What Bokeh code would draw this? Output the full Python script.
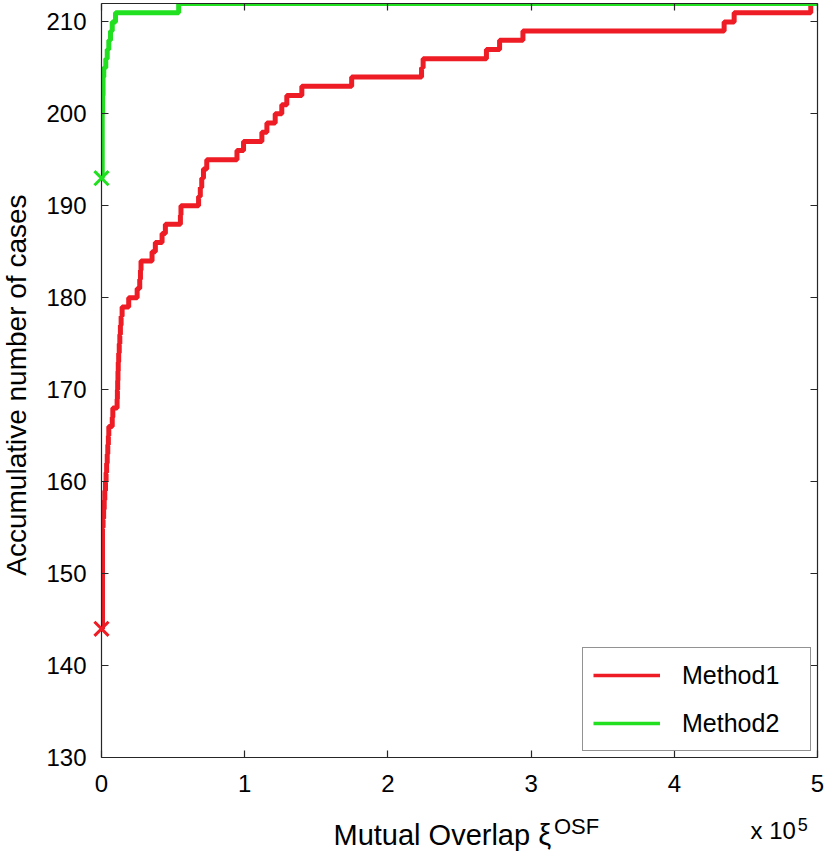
import math
from bokeh.plotting import figure
from bokeh.models import Range1d, LinearAxis, FixedTicker, Legend, LegendItem
from bokeh.core.properties import value
from bokeh.embed import file_html
from bokeh.resources import INLINE

# ---- data (x in units of 1e5) ----
red_x = [0, 0.007, 0.011, 0.015, 0.019, 0.023, 0.028, 0.032, 0.036, 0.040, 0.044, 0.048,
         0.051, 0.075, 0.079, 0.109, 0.111, 0.113, 0.115, 0.117, 0.120, 0.124, 0.128,
         0.132, 0.137, 0.144, 0.190, 0.249, 0.267, 0.272, 0.276, 0.353, 0.376, 0.423,
         0.446, 0.551, 0.555, 0.678, 0.690, 0.700, 0.712, 0.735, 0.946, 0.992, 1.120,
         1.155, 1.213, 1.259, 1.294, 1.399, 1.747, 2.235, 2.246, 2.688, 2.780, 2.943,
         4.348, 4.418, 4.953, 5.0]
red_y = [144, 155, 156, 157, 158, 159, 160, 161, 162, 163, 164, 165,
         166, 167, 168, 169, 170, 171, 172, 173, 174, 175, 176,
         177, 178, 179, 180, 181, 182, 183, 184, 185, 186, 187,
         188, 189, 190, 191, 192, 193, 194, 195, 196, 197, 198,
         199, 200, 201, 202, 203, 204, 205, 206, 207, 208, 209,
         210, 211, 212, 212]

green_x = [0, 0.005, 0.008, 0.011, 0.016, 0.030, 0.040, 0.051, 0.063, 0.075, 0.098, 0.539, 5.0]
green_y = [193, 200, 202, 204, 205, 206, 207, 208, 209, 210, 211, 212, 212]

series_names = ["Method1", "Method2"]
x_ticks = [0, 1, 2, 3, 4, 5]
y_ticks = [130, 140, 150, 160, 170, 180, 190, 200, 210]

RED = "#EE1C24"
GREEN = "#20E020"
AX = "#262626"
FONT = "Liberation Sans"

p = figure(frame_width=716, frame_height=754, output_backend="svg", toolbar_location=None,
           x_range=Range1d(0, 5), y_range=Range1d(130, 212),
           min_border_left=101, min_border_right=8, min_border_top=3, min_border_bottom=94,
           x_axis_location=None, y_axis_location=None)
p.xgrid.visible = False
p.ygrid.visible = False
p.outline_line_color = None
p.background_fill_color = "white"
p.border_fill_color = "white"


def make_axis(ticks, labels=True):
    ax = LinearAxis(ticker=FixedTicker(ticks=ticks))
    ax.major_tick_in = 7
    ax.major_tick_out = 0
    ax.minor_tick_line_color = None
    ax.axis_line_color = AX
    ax.axis_line_width = 1.2
    ax.major_tick_line_color = AX
    ax.major_tick_line_width = 1.2
    if labels:
        ax.major_label_text_font = FONT
        ax.major_label_text_font_size = "24px"
        ax.major_label_text_color = "black"
    else:
        ax.major_label_text_font_size = "1px"
        ax.major_label_text_color = None
        ax.major_label_standoff = 0
    return ax


xb = make_axis(x_ticks)
xb.major_label_standoff = 17
p.add_layout(xb, "below")

yl = make_axis(y_ticks)
yl.major_label_standoff = 15
p.add_layout(yl, "left")

p.add_layout(make_axis(x_ticks, labels=False), "above")
p.add_layout(make_axis(y_ticks, labels=False), "right")

# thinner copies (hidden beneath the main lines) serve as legend swatches
lg1 = p.step(red_x, red_y, mode="after", line_color=RED, line_width=3.5)
p.step(red_x, red_y, mode="after", line_color=RED, line_width=5)
lg2 = p.step(green_x, green_y, mode="after", line_color=GREEN, line_width=3.5)
p.step(green_x, green_y, mode="after", line_color=GREEN, line_width=5)

# start markers
p.scatter([red_x[0]], [red_y[0]], marker="x", size=20, line_color=RED, line_width=3, level="overlay")
p.scatter([green_x[0]], [green_y[0]], marker="x", size=20, line_color=GREEN, line_width=3, level="overlay")

legend = Legend(items=[LegendItem(label=series_names[0], renderers=[lg1]),
                       LegendItem(label=series_names[1], renderers=[lg2])],
                location="bottom_right", margin=6, padding=10, spacing=14,
                glyph_width=67, glyph_height=34, label_height=34, label_width=118,
                label_standoff=22, label_text_font=FONT, label_text_font_size="25px",
                label_text_color="black",
                border_line_color=AX, border_line_width=1.2,
                background_fill_color="white", background_fill_alpha=1.0)
p.add_layout(legend)


# axis titles drawn as text glyphs outside the frame
def add_text(x, y, txt, size, angle=0.0, align="left", baseline="alphabetic"):
    p.text(x=[x], y=[y], text=[txt], text_font=value(FONT), text_font_size=size,
           angle=angle, text_baseline=baseline, text_align=align,
           text_color="black", level="overlay")


add_text(1.620, 121.57, "Mutual Overlap ξ", "29px")
add_text(3.160, 122.45, "OSF", "22px")
add_text(4.532, 122.04, "x 10", "24px")
add_text(4.862, 122.75, "5", "18px")
add_text(-0.592, 170.5, "Accumulative number of cases", "28px",
         angle=math.pi / 2, align="center", baseline="middle")

open("out.html", "w").write(file_html(p, INLINE))
